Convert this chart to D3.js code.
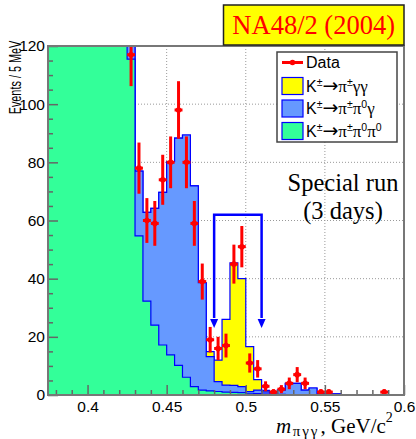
<!DOCTYPE html>
<html>
<head>
<meta charset="utf-8">
<script src="https://cdn.jsdelivr.net/npm/d3@7"></script>
<style>
  html, body { margin: 0; padding: 0; background: #fff; }
  svg { display: block; }
</style>
</head>
<body>
<svg id="chart" width="416" height="439"></svg>
<script>
// Histogram binning (5 MeV bins starting at 0.375 GeV/c^2)
const binStart = 0.375;
const binWidth = 0.005;

// K± → π±π0π0 background, events per bin
const pi3Counts = [950, 900, 830, 760, 680, 590, 500, 400, 300, 200,
  115.5, 54.7, 32.3, 24, 17.2, 13.8, 10.2, 6.1, 2.9, 1.7,
  1.4, 1.2, 1.0, 0.9, 0.8, 0.6, 0.5, 0.3, 0.2, 0.2,
  0.1, 0.1, 0, 0, 0, 0, 0];
// K± → π±π0γ background, events per bin
const pi2gCounts = [20, 20, 20, 20, 20, 20, 20, 20, 15, 12,
  8, 22.3, 30.5, 40.2, 52.5, 66.4, 78.1, 83.3, 69, 36.9,
  11.8, 3.4, 2.4, 2.4, 2.1, 0.6, 1.2, 0.8, 0.5, 1.5,
  3.9, 3.9, 1.7, 2.4, 0.4, 0.4, 0.4];
// K± → π±γγ signal, events per bin
const ggCounts = [0, 0, 0, 0, 0, 0, 0, 0, 0, 0,
  0, 0, 0, 0, 0, 0, 0, 0, 0, 0,
  1.7, 7.4, 22.6, 42.1, 37.1, 15.4, 3.6, 0.5, 0.2, 0,
  0, 0, 0, 0, 0, 0, 0];

// Data points: bin centres, counts, statistical errors
const dataMass = [0.4275, 0.4325, 0.4375, 0.4425, 0.4475, 0.4525, 0.4575, 0.4625, 0.4675, 0.4725,
  0.4775, 0.4825, 0.4875, 0.4925, 0.4975, 0.5025, 0.5075, 0.5125, 0.5175, 0.5225,
  0.5275, 0.5325, 0.5375, 0.5475, 0.5525, 0.5875];
const dataCounts = [117, 78, 60, 59, 74, 80, 98, 80, 59, 39,
  19, 16, 17, 45, 51, 11, 9, 3, 1, 2,
  4, 7, 4, 1, 1, 1];
const dataErrors = [10.8, 8.8, 7.7, 7.7, 8.6, 8.9, 9.9, 8.9, 7.7, 6.2,
  4.4, 4.0, 4.1, 6.7, 7.1, 3.3, 3.0, 1.7, 1.0, 1.4,
  2.0, 2.6, 2.0, 1.0, 1.0, 1.0];

// Signal window and bracket levels (events)
const signalWindow = [0.48, 0.51];
const bracketTop = 62;
const arrowTip = 23;

// Axis ticks
const xTickValues = [0.4, 0.45, 0.5, 0.55, 0.6];
const xTickLabels = ["0.4", "0.45", "0.5", "0.55", "0.6"];
const yTickValues = [0, 20, 40, 60, 80, 100, 120];
const yTickLabels = ["0", "20", "40", "60", "80", "100", "120"];

// Legend entries
const legendEntries = [
  { kind: "data", parts: [["Data", ""]] },
  { kind: "box", fill: "#ffff00", parts: [["K", ""], ["±", "sup"], ["→", "arrow"], ["π", "g"], ["±", "sup"], ["γγ", "g"]] },
  { kind: "box", fill: "#6699ff", parts: [["K", ""], ["±", "sup"], ["→", "arrow"], ["π", "g"], ["±", "sup"], ["π", "g"], ["0", "sup"], ["γ", "g"]] },
  { kind: "box", fill: "#33ff99", parts: [["K", ""], ["±", "sup"], ["→", "arrow"], ["π", "g"], ["±", "sup"], ["π", "g"], ["0", "sup"], ["π", "g"], ["0", "sup"]] }
];

const svg = d3.select("#chart");
const L = 48, R = 404, T = 46, B = 395;
const x = d3.scaleLinear().domain([0.375, 0.6]).range([L, R]);
const y = d3.scaleLinear().domain([0, 120]).range([B, T]);

const SANS = "'Liberation Sans', Arial, Helvetica, sans-serif";
const SERIF = "'Liberation Serif', 'Times New Roman', serif";
const AXIS = "#666";
const OUTLINE = "#0000ff";

svg.append("defs").append("clipPath").attr("id", "plotClip")
  .append("rect").attr("x", L).attr("y", T).attr("width", R - L).attr("height", B - T);

// Grid
const grid = svg.append("g").attr("stroke", "#999").attr("stroke-width", 1)
  .attr("stroke-dasharray", "1,2");
[0.45, 0.5, 0.55].forEach(v => grid.append("line")
  .attr("x1", x(v)).attr("x2", x(v)).attr("y1", T).attr("y2", B));
[20, 40, 60, 80, 100].forEach(v => grid.append("line")
  .attr("x1", L).attr("x2", R).attr("y1", y(v)).attr("y2", y(v)));

// Stacked histograms
const nBins = pi3Counts.length;
const cumGreen = pi3Counts.slice();
const cumBlue = pi3Counts.map((v, i) => v + pi2gCounts[i]);
const cumYellow = cumBlue.map((v, i) => v + ggCounts[i]);

function histPath(vals) {
  const p = d3.path();
  p.moveTo(x(binStart), y(0));
  vals.forEach((v, i) => {
    const lo = binStart + i * binWidth, hi = lo + binWidth;
    p.lineTo(x(lo), y(v));
    p.lineTo(x(hi), y(v));
  });
  p.lineTo(x(binStart + nBins * binWidth), y(0));
  p.closePath();
  return p.toString();
}

const hist = svg.append("g").attr("clip-path", "url(#plotClip)");
[[cumYellow, "#ffff00"], [cumBlue, "#6699ff"], [cumGreen, "#33ff99"]].forEach(([vals, fill]) => {
  hist.append("path").attr("d", histPath(vals))
    .attr("fill", fill).attr("stroke", OUTLINE).attr("stroke-width", 1.2)
    .attr("stroke-linejoin", "miter");
});

// Signal window bracket with arrows
const br = svg.append("g").attr("stroke", OUTLINE).attr("stroke-width", 2.5).attr("fill", "none");
br.append("path").attr("d", d3.line()([
  [x(signalWindow[0]), y(arrowTip + 3.5)],
  [x(signalWindow[0]), y(bracketTop)],
  [x(signalWindow[1]), y(bracketTop)],
  [x(signalWindow[1]), y(arrowTip + 3.5)]
]));
signalWindow.forEach(m => {
  const cx = x(m), tip = y(arrowTip), base = y(arrowTip) - 9;
  svg.append("path")
    .attr("d", `M${cx - 4},${base} L${cx + 4},${base} L${cx},${tip} Z`)
    .attr("fill", OUTLINE);
});

// Data points with error bars
const dg = svg.append("g").attr("clip-path", "url(#plotClip)")
  .attr("stroke", "#ff0000").attr("stroke-width", 3);
dataMass.forEach((m, i) => {
  const v = dataCounts[i], e = dataErrors[i];
  dg.append("line").attr("x1", x(m)).attr("x2", x(m))
    .attr("y1", y(Math.max(0, v - e))).attr("y2", y(v + e));
  dg.append("line").attr("x1", x(m - binWidth / 2)).attr("x2", x(m + binWidth / 2))
    .attr("y1", y(v)).attr("y2", y(v));
  dg.append("circle").attr("cx", x(m)).attr("cy", y(v)).attr("r", 2.8)
    .attr("fill", "#ff0000").attr("stroke", "none");
});

// Axes
const xAxis = svg.append("g").attr("transform", `translate(0,${B})`)
  .call(d3.axisBottom(x).tickValues(xTickValues)
    .tickFormat((d, i) => xTickLabels[i]).tickSizeInner(-10).tickSizeOuter(0).tickPadding(6));
const xMinor = svg.append("g").attr("transform", `translate(0,${B})`)
  .call(d3.axisBottom(x).tickValues(d3.range(0.38, 0.6001, 0.01).filter(v => xTickValues.every(t => Math.abs(t - v) > 1e-6)))
    .tickFormat("").tickSizeInner(-5).tickSizeOuter(0));
const yAxis = svg.append("g").attr("transform", `translate(${L},0)`)
  .call(d3.axisLeft(y).tickValues(yTickValues)
    .tickFormat((d, i) => yTickLabels[i]).tickSizeInner(-10).tickSizeOuter(0).tickPadding(3));
const yMinor = svg.append("g").attr("transform", `translate(${L},0)`)
  .call(d3.axisLeft(y).tickValues(d3.range(5, 120, 5).filter(v => v % 20 !== 0))
    .tickFormat("").tickSizeInner(-5).tickSizeOuter(0));
[xAxis, xMinor, yAxis, yMinor].forEach(g => {
  g.select(".domain").remove();
  g.selectAll(".tick line").attr("stroke", AXIS).attr("stroke-width", 1.5);
  g.selectAll("text").attr("font-family", SANS).attr("font-size", 15.5).attr("fill", "#000");
});

// Frame
svg.append("rect").attr("x", L).attr("y", T).attr("width", R - L).attr("height", B - T)
  .attr("fill", "none").attr("stroke", "#777").attr("stroke-width", 2);

// Axis titles (y title is drawn narrow along its baseline)
svg.append("text")
  .attr("transform", `translate(20.5,77.5) rotate(-90) scale(0.68,1)`)
  .attr("text-anchor", "middle").attr("font-family", SANS).attr("font-size", 16)
  .text("Events / 5 MeV");

const xt = svg.append("text").attr("x", 276).attr("y", 433)
  .attr("font-family", SERIF).attr("font-size", 21).attr("fill", "#000");
xt.append("tspan").attr("font-style", "italic").text("m");
xt.append("tspan").attr("font-size", 15).attr("dy", 2.5).attr("dx", 1.5)
  .attr("letter-spacing", 2).text("πγγ");
xt.append("tspan").attr("dy", -2.5).attr("dx", 1).text(", GeV/c");
xt.append("tspan").attr("font-size", 14).attr("dy", -11).text("2");

// Annotation
svg.append("text").attr("x", 343).attr("y", 191).attr("text-anchor", "middle")
  .attr("font-family", SERIF).attr("font-size", 24.5).text("Special run");
svg.append("text").attr("x", 343).attr("y", 218.5).attr("text-anchor", "middle")
  .attr("font-family", SERIF).attr("font-size", 24.5).text("(3 days)");

// Title box
svg.append("rect").attr("x", 223.5).attr("y", 5).attr("width", 180.5).attr("height", 40)
  .attr("fill", "#ffff00").attr("stroke", "#222").attr("stroke-width", 1.5);
svg.append("text").attr("x", 313.7).attr("y", 33.5).attr("text-anchor", "middle")
  .attr("font-family", SERIF).attr("font-size", 26.5).attr("fill", "#ff0000")
  .text("NA48/2 (2004)");

// Legend
const lg = svg.append("g");
lg.append("rect").attr("x", 277).attr("y", 52).attr("width", 120).attr("height", 90)
  .attr("fill", "#fff").attr("stroke", "#444").attr("stroke-width", 1.5);
const rowY = [62.5, 86, 108.5, 131];
legendEntries.forEach((ent, i) => {
  const cy = rowY[i];
  if (ent.kind === "data") {
    lg.append("line").attr("x1", 282).attr("x2", 303).attr("y1", cy).attr("y2", cy)
      .attr("stroke", "#ff0000").attr("stroke-width", 3);
    lg.append("circle").attr("cx", 292.5).attr("cy", cy).attr("r", 2.8).attr("fill", "#ff0000");
  } else {
    lg.append("rect").attr("x", 282).attr("y", cy - 8.5).attr("width", 21).attr("height", 17)
      .attr("fill", ent.fill).attr("stroke", OUTLINE).attr("stroke-width", 1.2);
  }
  const t = lg.append("text").attr("x", 306).attr("y", cy + 5.8)
    .attr("font-family", SANS).attr("font-size", 16).attr("fill", "#000");
  let shifted = false;
  ent.parts.forEach(([s, style]) => {
    const ts = t.append("tspan").text(s);
    if (style === "sup") {
      ts.attr("font-size", 10.5).attr("dy", shifted ? 0 : -6);
      shifted = true;
    } else {
      if (shifted) { ts.attr("dy", 6); shifted = false; }
      if (style === "g") ts.attr("font-family", SERIF).attr("font-size", 17);
      if (style === "arrow") ts.attr("font-family", "'DejaVu Sans', sans-serif").attr("font-size", 19);
    }
  });
});
</script>
</body>
</html>
